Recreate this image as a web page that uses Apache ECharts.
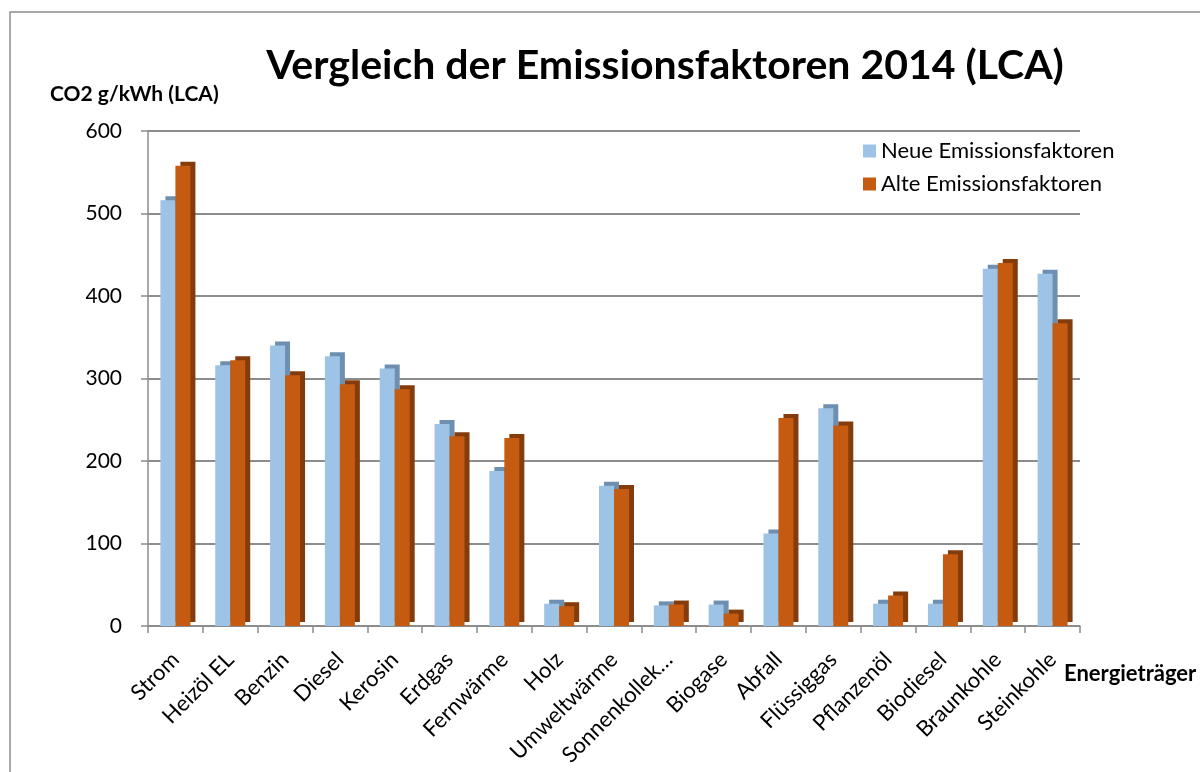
<!DOCTYPE html>
<html>
<head>
<meta charset="utf-8">
<script src="https://cdn.jsdelivr.net/npm/echarts@6/dist/echarts.min.js"></script>
<style>html,body{margin:0;padding:0;background:#fff}#c{width:1200px;height:772px}</style>
</head>
<body>
<div id="c"></div>
<script>
const categories = ["Strom","Heizöl EL","Benzin","Diesel","Kerosin","Erdgas","Fernwärme","Holz","Umweltwärme","Sonnenkollek…","Biogase","Abfall","Flüssiggas","Pflanzenöl","Biodiesel","Braunkohle","Steinkohle"];
const neueFaktoren = [516, 316, 340, 327, 312, 245, 188, 27, 170, 25, 26, 112, 264, 27, 27, 433, 427];
const alteFaktoren = [558, 322, 304, 293, 287, 230, 228, 24, 166, 26, 15, 252, 243, 37, 87, 440, 367];
const yTicks = [0, 100, 200, 300, 400, 500, 600];

const chart = echarts.init(document.getElementById('c'), null, {renderer: 'canvas'});
const font = 'Lato, "Open Sans", sans-serif';
chart.setOption({
  backgroundColor: '#ffffff',
  animation: false,
  title: {
    text: 'Vergleich der Emissionsfaktoren 2014 (LCA)',
    left: 660, top: 40, textAlign: 'center',
    textStyle: {fontFamily: font, fontSize: 41, fontWeight: 'bold', color: '#000'}
  },
  graphic: [
    {type: 'polyline', shape: {points: [[10, 772], [10, 12], [1200, 12]]}, style: {stroke: '#8c8c8c', lineWidth: 1.5, fill: null}, silent: true},
    {type: 'text', left: 50, top: 84, style: {text: 'CO2 g/kWh (LCA)', fontFamily: font, fontSize: 21, fontWeight: 'bold', fill: '#000'}},
    {type: 'text', left: 1064, top: 663, style: {text: 'Energieträger', fontFamily: font, fontSize: 22, fontWeight: 'bold', fill: '#000'}}
  ],
  legend: {
    orient: 'vertical', left: 858, top: 135, itemGap: 11,
    itemWidth: 13, itemHeight: 13, icon: 'rect',
    textStyle: {fontFamily: font, fontSize: 22, color: '#000'},
    data: ['Neue Emissionsfaktoren', 'Alte Emissionsfaktoren']
  },
  grid: {left: 148, right: 120, top: 131, bottom: 146},
  xAxis: {
    type: 'category', data: categories,
    axisLine: {lineStyle: {color: '#8c8c8c', width: 1.5}},
    axisTick: {show: true, length: 7, lineStyle: {color: '#8c8c8c', width: 1.5}},
    axisLabel: {rotate: 45, interval: 0, margin: 30, fontFamily: font, fontSize: 22, color: '#000'}
  },
  yAxis: {
    type: 'value', min: 0, max: 600, interval: 100,
    axisLine: {show: true, lineStyle: {color: '#8c8c8c', width: 1.5}},
    axisTick: {show: true, length: 7, lineStyle: {color: '#8c8c8c', width: 1.5}},
    splitLine: {lineStyle: {color: '#8c8c8c', width: 2}},
    axisLabel: {margin: 26, fontFamily: font, fontSize: 21, color: '#000',
      formatter: v => yTicks.includes(v) ? String(v) : ''}
  },
  series: [
    {name: 'Neue Emissionsfaktoren', type: 'bar', data: neueFaktoren, barWidth: 15, barGap: '0%',
      itemStyle: {color: '#9dc3e6', shadowColor: '#6e8fb0', shadowBlur: 0, shadowOffsetX: 5, shadowOffsetY: -4}},
    {name: 'Alte Emissionsfaktoren', type: 'bar', data: alteFaktoren, barWidth: 15,
      itemStyle: {color: '#c55a11', shadowColor: '#843c0c', shadowBlur: 0, shadowOffsetX: 5, shadowOffsetY: -4}}
  ]
});
</script>
</body>
</html>
